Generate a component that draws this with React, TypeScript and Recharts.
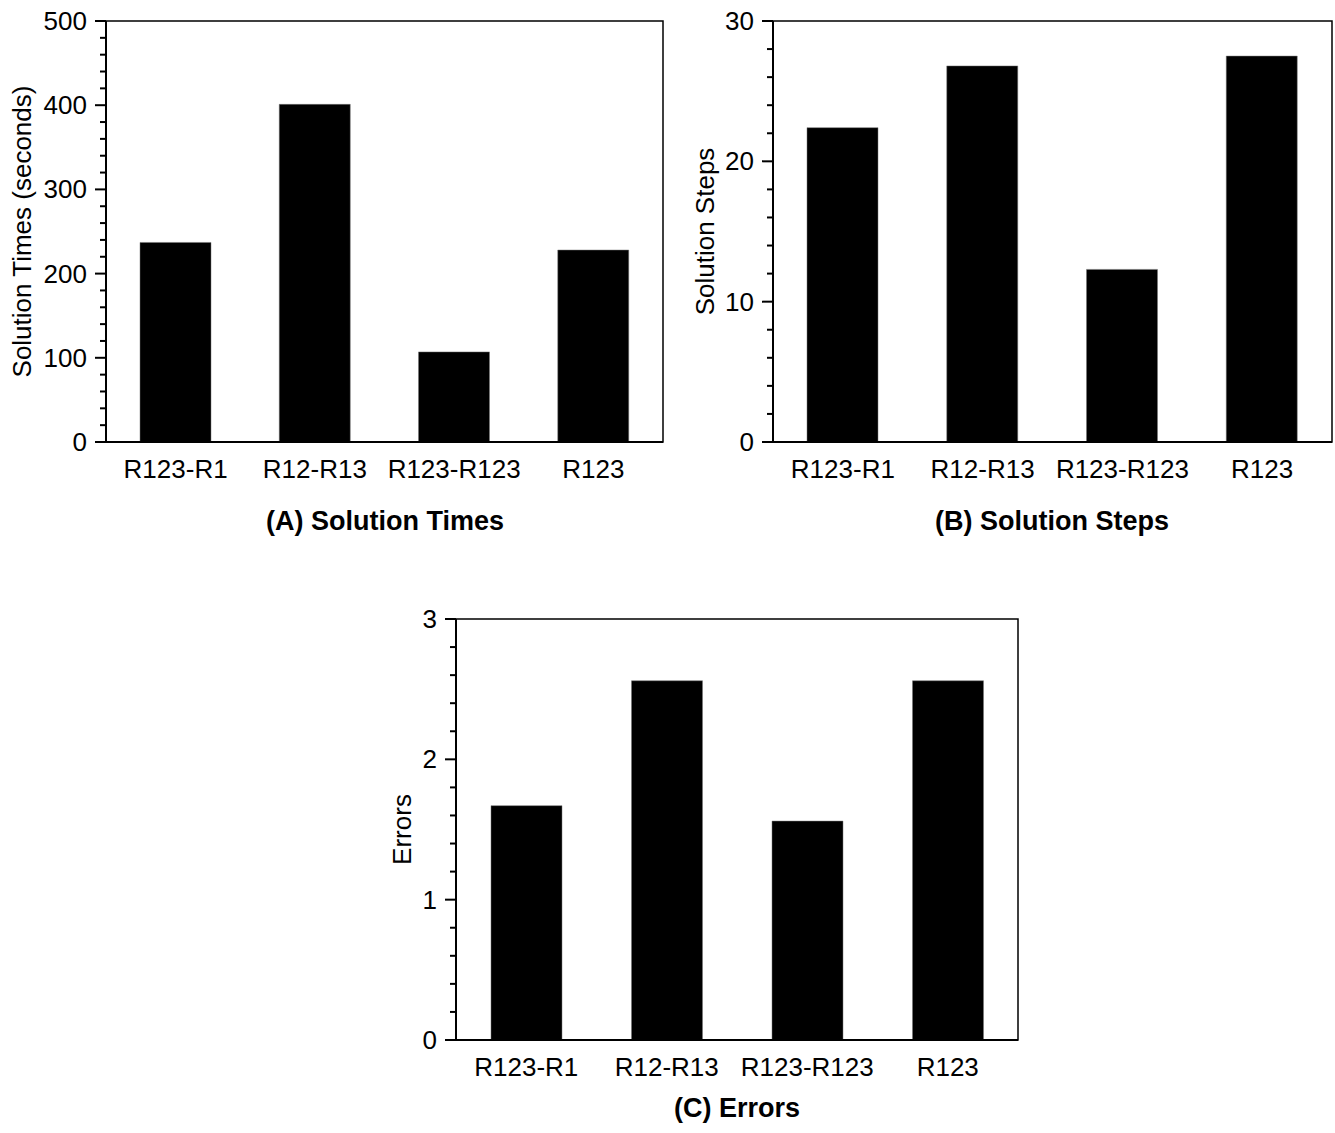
import React from "react";
import { BarChart, Bar, XAxis, YAxis, Label, ReferenceArea } from "recharts";

// Three panels of the same four conditions
const categories = ["R123-R1", "R12-R13", "R123-R123", "R123"];
const solutionTimes = [237, 401, 107, 228];
const solutionSteps = [22.4, 26.8, 12.3, 27.5];
const errorCounts = [1.67, 2.56, 1.56, 2.56];

const timeMajorTicks = [0, 100, 200, 300, 400, 500];
const stepMajorTicks = [0, 10, 20, 30];
const errorMajorTicks = [0, 1, 2, 3];

const FONT = '"Liberation Sans", Arial, Helvetica, sans-serif';
const FONT_SIZE = 26;

// majors plus 4 minor ticks between each pair
function withMinors(majors: number[]) {
  const out: number[] = [];
  for (let i = 0; i < majors.length - 1; i++) {
    const step = (majors[i + 1] - majors[i]) / 5;
    for (let k = 0; k < 5; k++) out.push(Math.round((majors[i] + step * k) * 1000) / 1000);
  }
  out.push(majors[majors.length - 1]);
  return out;
}

const toRows = (values: number[]) => categories.map((name, i) => ({ name, value: values[i] }));

function YTick(props: any) {
  const { x, y, payload, majors } = props;
  const isMajor = majors.includes(payload.value);
  const axisX = x + 11 + 8;
  return (
    <g>
      <line x1={axisX - (isMajor ? 11 : 6)} x2={axisX} y1={y} y2={y} stroke="#000" strokeWidth={2} />
      {isMajor && (
        <text x={x} y={y} textAnchor="end" dominantBaseline="central" fill="#000" fontSize={FONT_SIZE} fontFamily={FONT}>
          {payload.value}
        </text>
      )}
    </g>
  );
}

function RotatedTitle({ viewBox, text, dx }: { viewBox?: any; text: string; dx: number }) {
  if (!viewBox) return null;
  const cx = viewBox.x + dx;
  const cy = viewBox.y + viewBox.height / 2;
  return (
    <text x={cx} y={cy} transform={`rotate(-90 ${cx} ${cy})`} textAnchor="middle" dominantBaseline="central" fill="#000" fontSize={FONT_SIZE} fontFamily={FONT}>
      {text}
    </text>
  );
}

interface PanelProps {
  values: number[];
  majors: number[];
  yLabel: string;
  labelDx: number;
  width: number;
  height: number;
  marginTop: number;
  marginRight: number;
  xAxisHeight: number;
}

function Panel({ values, majors, yLabel, labelDx, width, height, marginTop, marginRight, xAxisHeight }: PanelProps) {
  const domain: [number, number] = [majors[0], majors[majors.length - 1]];
  return (
    <BarChart width={width} height={height} data={toRows(values)} margin={{ top: marginTop, right: marginRight, bottom: 0, left: 0 }}>
      {/* box around the plot */}
      <ReferenceArea y1={domain[0]} y2={domain[1]} fill="none" fillOpacity={0} stroke="#000" strokeWidth={1.5} ifOverflow="visible" />
      <XAxis
        dataKey="name"
        height={xAxisHeight}
        tickLine={false}
        tickSize={0}
        tickMargin={18}
        interval={0}
        axisLine={{ stroke: "#000", strokeWidth: 2 }}
        tick={{ fill: "#000", fontSize: FONT_SIZE, fontFamily: FONT }}
      />
      <YAxis
        type="number"
        domain={domain}
        ticks={withMinors(majors)}
        interval={0}
        width={106}
        tickSize={11}
        tickMargin={8}
        tickLine={false}
        axisLine={{ stroke: "#000", strokeWidth: 2 }}
        tick={<YTick majors={majors} />}
      >
        <Label content={(p: any) => <RotatedTitle viewBox={p.viewBox} text={yLabel} dx={labelDx} />} />
      </YAxis>
      <Bar dataKey="value" fill="#000" stroke="#777" strokeWidth={0.5} barSize={71} isAnimationActive={false} />
    </BarChart>
  );
}

const titleStyle: React.CSSProperties = {
  position: "absolute",
  fontFamily: FONT,
  fontSize: 27,
  fontWeight: "bold",
  color: "#000",
  transform: "translate(-50%, -50%)",
  whiteSpace: "nowrap",
};

export default function App() {
  return (
    <div style={{ position: "absolute", left: 0, top: 0, width: 1335, height: 1133, background: "#fff", overflow: "hidden" }}>
      <div style={{ position: "absolute", left: 0, top: 0 }}>
        <Panel values={solutionTimes} majors={timeMajorTicks} yLabel="Solution Times (seconds)" labelDx={22}
          width={680} height={494} marginTop={21} marginRight={17} xAxisHeight={52} />
      </div>
      <div style={{ position: "absolute", left: 667, top: 0 }}>
        <Panel values={solutionSteps} majors={stepMajorTicks} yLabel="Solution Steps" labelDx={38}
          width={668} height={494} marginTop={21} marginRight={3} xAxisHeight={52} />
      </div>
      <div style={{ position: "absolute", left: 350, top: 590 }}>
        <Panel values={errorCounts} majors={errorMajorTicks} yLabel="Errors" labelDx={52}
          width={690} height={502} marginTop={29} marginRight={22} xAxisHeight={52} />
      </div>
      <div style={{ ...titleStyle, left: 385, top: 521 }}>(A) Solution Times</div>
      <div style={{ ...titleStyle, left: 1052, top: 521 }}>(B) Solution Steps</div>
      <div style={{ ...titleStyle, left: 737, top: 1108 }}>(C) Errors</div>
    </div>
  );
}
